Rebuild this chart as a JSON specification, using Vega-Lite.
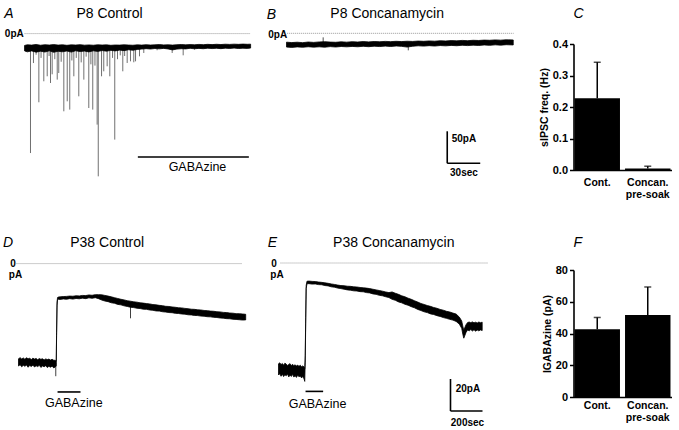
{
 "$schema": "https://vega.github.io/schema/vega-lite/v6.json",
 "background": "white",
 "padding": {"left": 2.5, "top": 6, "right": 8, "bottom": 4},
 "config": {
  "font": "Liberation Sans",
  "view": {"stroke": null},
  "axis": {"domainColor": "black", "tickColor": "black", "labelColor": "black", "titleColor": "black", "grid": false, "domainWidth": 1.6, "tickWidth": 1.5, "tickSize": 4, "labelFontWeight": "bold", "labelFontSize": 10.5, "titleFontSize": 10.5, "titleFontWeight": "bold", "titlePadding": 3, "labelPadding": 2, "labelOverlap": false},
  "title": {"font": "Liberation Sans", "color": "black"}
 },
 "datasets": {
  "band": [
   {"p":"A","t":5.5,"lo":-27,"hi":-18.5},{"p":"A","t":8,"lo":-28.5,"hi":-17.5},{"p":"A","t":12,"lo":-27,"hi":-18},{"p":"A","t":16,"lo":-29,"hi":-17},{"p":"A","t":20,"lo":-27.5,"hi":-18.2},{"p":"A","t":24,"lo":-28.8,"hi":-17.4},{"p":"A","t":28,"lo":-26.9,"hi":-17.9},{"p":"A","t":32,"lo":-29.2,"hi":-17.2},{"p":"A","t":36,"lo":-27.6,"hi":-18},{"p":"A","t":40,"lo":-28.4,"hi":-17.5},{"p":"A","t":44,"lo":-27.1,"hi":-18.3},{"p":"A","t":48,"lo":-28.9,"hi":-17.6},{"p":"A","t":52,"lo":-26.8,"hi":-17.9},{"p":"A","t":56,"lo":-28.1,"hi":-17.3},{"p":"A","t":60,"lo":-27.3,"hi":-18.1},{"p":"A","t":64,"lo":-28.6,"hi":-17.7},{"p":"A","t":68,"lo":-26.9,"hi":-18.2},{"p":"A","t":72,"lo":-27.8,"hi":-17.5},{"p":"A","t":76,"lo":-26.5,"hi":-17.9},{"p":"A","t":80,"lo":-27.4,"hi":-17.6},{"p":"A","t":84,"lo":-26.2,"hi":-18.3},{"p":"A","t":88,"lo":-27,"hi":-17.8},{"p":"A","t":92,"lo":-25.8,"hi":-18},{"p":"A","t":96,"lo":-26.6,"hi":-17.5},{"p":"A","t":100,"lo":-25.2,"hi":-17.9},{"p":"A","t":104,"lo":-26,"hi":-18.2},{"p":"A","t":108,"lo":-24.8,"hi":-17.6},{"p":"A","t":112,"lo":-24.2,"hi":-18},{"p":"A","t":116,"lo":-23.5,"hi":-17.4},{"p":"A","t":120,"lo":-24.1,"hi":-17.9},{"p":"A","t":124,"lo":-23.3,"hi":-17.6},{"p":"A","t":128,"lo":-23.8,"hi":-17.2},{"p":"A","t":132,"lo":-23.1,"hi":-17.7},{"p":"A","t":136,"lo":-24,"hi":-17.5},{"p":"A","t":140,"lo":-25.5,"hi":-18},{"p":"A","t":144,"lo":-24.2,"hi":-17.4},{"p":"A","t":148,"lo":-23.6,"hi":-17.1},{"p":"A","t":152,"lo":-23.9,"hi":-17.6},{"p":"A","t":156,"lo":-23,"hi":-17.2},{"p":"A","t":160,"lo":-23.7,"hi":-17.5},{"p":"A","t":164,"lo":-23.1,"hi":-16.9},{"p":"A","t":168,"lo":-23.6,"hi":-17.3},{"p":"A","t":172,"lo":-22.8,"hi":-16.8},{"p":"A","t":176,"lo":-23.4,"hi":-17.2},{"p":"A","t":180,"lo":-22.9,"hi":-16.7},{"p":"A","t":184,"lo":-23.5,"hi":-17.1},{"p":"A","t":188,"lo":-22.7,"hi":-16.6},{"p":"A","t":192,"lo":-23.2,"hi":-16.9},{"p":"A","t":196,"lo":-22.6,"hi":-16.5},{"p":"A","t":200,"lo":-23.3,"hi":-16.8},{"p":"A","t":204,"lo":-22.8,"hi":-16.4},{"p":"A","t":208,"lo":-23.1,"hi":-16.7},{"p":"A","t":211,"lo":-22.6,"hi":-16.5},
   {"p":"B","t":7.3,"lo":-21.5,"hi":-13.8},{"p":"B","t":12,"lo":-22,"hi":-14.5},{"p":"B","t":17,"lo":-21.2,"hi":-13.9},{"p":"B","t":22,"lo":-21.8,"hi":-14.6},{"p":"B","t":27,"lo":-21,"hi":-13.6},{"p":"B","t":32,"lo":-21.6,"hi":-14.2},{"p":"B","t":37,"lo":-21.1,"hi":-13.5},{"p":"B","t":42,"lo":-21.7,"hi":-13.1},{"p":"B","t":47,"lo":-20.8,"hi":-13.7},{"p":"B","t":52,"lo":-21.4,"hi":-14},{"p":"B","t":57,"lo":-20.6,"hi":-13.3},{"p":"B","t":62,"lo":-21.1,"hi":-13.8},{"p":"B","t":67,"lo":-20.5,"hi":-13.1},{"p":"B","t":72,"lo":-21,"hi":-13.6},{"p":"B","t":77,"lo":-20.3,"hi":-12.9},{"p":"B","t":82,"lo":-20.9,"hi":-13.4},{"p":"B","t":87,"lo":-20.1,"hi":-12.8},{"p":"B","t":92,"lo":-20.7,"hi":-13.2},{"p":"B","t":97,"lo":-20,"hi":-12.6},{"p":"B","t":102,"lo":-20.6,"hi":-13},{"p":"B","t":107,"lo":-19.8,"hi":-12.5},{"p":"B","t":112,"lo":-20.4,"hi":-12.9},{"p":"B","t":117,"lo":-21.5,"hi":-12.4},{"p":"B","t":122,"lo":-20.2,"hi":-12.7},{"p":"B","t":127,"lo":-19.5,"hi":-12.1},{"p":"B","t":132,"lo":-20,"hi":-12.5},{"p":"B","t":137,"lo":-19.3,"hi":-11.9},{"p":"B","t":142,"lo":-19.9,"hi":-12.3},{"p":"B","t":147,"lo":-19.1,"hi":-11.6},{"p":"B","t":152,"lo":-19.6,"hi":-12},{"p":"B","t":157,"lo":-18.9,"hi":-11.4},{"p":"B","t":162,"lo":-19.4,"hi":-11.8},{"p":"B","t":167,"lo":-18.7,"hi":-11.1},{"p":"B","t":172,"lo":-19.2,"hi":-11.5},{"p":"B","t":177,"lo":-18.5,"hi":-10.9},{"p":"B","t":182,"lo":-19,"hi":-11.2},{"p":"B","t":187,"lo":-18.2,"hi":-10.6},{"p":"B","t":192,"lo":-18.8,"hi":-10.9},{"p":"B","t":197,"lo":-18,"hi":-10.3},{"p":"B","t":202,"lo":-18.5,"hi":-10.7},{"p":"B","t":207,"lo":-17.8,"hi":-10.1},{"p":"B","t":213.4,"lo":-18.2,"hi":-10.4},
   {"p":"D","t":0,"lo":-64,"hi":-59.5},{"p":"D","t":10,"lo":-63.2,"hi":-58.8},{"p":"D","t":20,"lo":-64.5,"hi":-59.6},{"p":"D","t":30,"lo":-63.6,"hi":-59},{"p":"D","t":40,"lo":-64.2,"hi":-59.8},{"p":"D","t":50,"lo":-63.4,"hi":-58.9},{"p":"D","t":60,"lo":-64.8,"hi":-59.5},{"p":"D","t":70,"lo":-63.7,"hi":-59.2},{"p":"D","t":80,"lo":-64.3,"hi":-60},{"p":"D","t":90,"lo":-63.5,"hi":-59.1},{"p":"D","t":100,"lo":-64.6,"hi":-59.7},{"p":"D","t":110,"lo":-63.9,"hi":-59.3},{"p":"D","t":120,"lo":-64.4,"hi":-60.1},{"p":"D","t":130,"lo":-63.6,"hi":-59.4},{"p":"D","t":140,"lo":-64.9,"hi":-59.8},{"p":"D","t":150,"lo":-64,"hi":-59.5},{"p":"D","t":160,"lo":-64.5,"hi":-60.2},{"p":"D","t":170,"lo":-63.8,"hi":-59.6},{"p":"D","t":180,"lo":-65,"hi":-60},{"p":"D","t":190,"lo":-64.2,"hi":-59.7},{"p":"D","t":200,"lo":-64.8,"hi":-60.3},{"p":"D","t":210,"lo":-64.1,"hi":-59.8},{"p":"D","t":220,"lo":-65.2,"hi":-60.4},{"p":"D","t":230,"lo":-64.6,"hi":-60.5},{"p":"D","t":236,"lo":-64,"hi":-61},{"p":"D","t":238,"lo":-45,"hi":-43},{"p":"D","t":241,"lo":-26,"hi":-24},{"p":"D","t":244,"lo":-22.6,"hi":-21.2},{"p":"D","t":250,"lo":-22.3,"hi":-20.9},
   {"p":"D","t":260,"lo":-22.4,"hi":-20.8},{"p":"D","t":280,"lo":-22.1,"hi":-20.6},{"p":"D","t":300,"lo":-22.3,"hi":-20.5},{"p":"D","t":320,"lo":-21.9,"hi":-20.3},{"p":"D","t":340,"lo":-22.2,"hi":-20.4},{"p":"D","t":360,"lo":-21.8,"hi":-20.1},{"p":"D","t":380,"lo":-22,"hi":-20.2},{"p":"D","t":400,"lo":-21.6,"hi":-19.9},{"p":"D","t":420,"lo":-21.9,"hi":-20},{"p":"D","t":440,"lo":-21.4,"hi":-19.6},{"p":"D","t":460,"lo":-21.7,"hi":-19.8},{"p":"D","t":480,"lo":-21.3,"hi":-19.4},{"p":"D","t":500,"lo":-21.9,"hi":-19.4},
   {"p":"D","t":520,"lo":-22.8,"hi":-19.5},{"p":"D","t":540,"lo":-23.4,"hi":-19.9},{"p":"D","t":560,"lo":-23.8,"hi":-20.3},{"p":"D","t":580,"lo":-24.5,"hi":-20.8},{"p":"D","t":600,"lo":-24.8,"hi":-21.3},{"p":"D","t":620,"lo":-25.5,"hi":-21.8},{"p":"D","t":640,"lo":-25.8,"hi":-22.3},{"p":"D","t":660,"lo":-26.4,"hi":-22.7},{"p":"D","t":680,"lo":-26.8,"hi":-23.2},{"p":"D","t":700,"lo":-27.3,"hi":-23.5},{"p":"D","t":720,"lo":-27.5,"hi":-23.9},{"p":"D","t":740,"lo":-27.9,"hi":-24.1},{"p":"D","t":760,"lo":-28.1,"hi":-24.5},{"p":"D","t":780,"lo":-28.5,"hi":-24.7},{"p":"D","t":800,"lo":-28.6,"hi":-25},{"p":"D","t":820,"lo":-29,"hi":-25.2},{"p":"D","t":840,"lo":-29.2,"hi":-25.6},{"p":"D","t":860,"lo":-29.6,"hi":-25.8},{"p":"D","t":880,"lo":-29.7,"hi":-26.1},{"p":"D","t":900,"lo":-30.1,"hi":-26.3},{"p":"D","t":920,"lo":-30.3,"hi":-26.7},{"p":"D","t":940,"lo":-30.6,"hi":-26.8},{"p":"D","t":960,"lo":-30.7,"hi":-27.1},{"p":"D","t":980,"lo":-31.1,"hi":-27.3},{"p":"D","t":1000,"lo":-31.2,"hi":-27.6},{"p":"D","t":1020,"lo":-31.5,"hi":-27.7},{"p":"D","t":1040,"lo":-31.6,"hi":-28},{"p":"D","t":1060,"lo":-32,"hi":-28.2},{"p":"D","t":1080,"lo":-32.1,"hi":-28.5},{"p":"D","t":1100,"lo":-32.4,"hi":-28.6},{"p":"D","t":1120,"lo":-32.5,"hi":-28.9},{"p":"D","t":1140,"lo":-32.8,"hi":-29},{"p":"D","t":1160,"lo":-32.9,"hi":-29.3},{"p":"D","t":1180,"lo":-33.2,"hi":-29.4},{"p":"D","t":1200,"lo":-33.3,"hi":-29.7},{"p":"D","t":1220,"lo":-33.6,"hi":-29.8},{"p":"D","t":1240,"lo":-33.7,"hi":-30.1},{"p":"D","t":1260,"lo":-34,"hi":-30.2},{"p":"D","t":1280,"lo":-34.1,"hi":-30.5},{"p":"D","t":1300,"lo":-34.4,"hi":-30.6},{"p":"D","t":1320,"lo":-34.5,"hi":-30.9},{"p":"D","t":1340,"lo":-34.8,"hi":-31},{"p":"D","t":1360,"lo":-34.9,"hi":-31.3},{"p":"D","t":1380,"lo":-35.1,"hi":-31.3},{"p":"D","t":1400,"lo":-35.3,"hi":-31.5},{"p":"D","t":1420,"lo":-35.2,"hi":-31.7},
   {"p":"E","t":0,"lo":-70,"hi":-63},{"p":"E","t":8,"lo":-69.2,"hi":-62.4},{"p":"E","t":16,"lo":-70.8,"hi":-63.5},{"p":"E","t":24,"lo":-69.5,"hi":-62.8},{"p":"E","t":32,"lo":-71,"hi":-63.9},{"p":"E","t":40,"lo":-69.8,"hi":-62.6},{"p":"E","t":48,"lo":-70.5,"hi":-63.2},{"p":"E","t":56,"lo":-69.3,"hi":-64},{"p":"E","t":64,"lo":-71.2,"hi":-63.4},{"p":"E","t":72,"lo":-70.1,"hi":-62.9},{"p":"E","t":80,"lo":-70.9,"hi":-64.1},{"p":"E","t":88,"lo":-69.6,"hi":-63.3},{"p":"E","t":96,"lo":-71.3,"hi":-64.2},{"p":"E","t":104,"lo":-70.4,"hi":-63.6},{"p":"E","t":112,"lo":-71.5,"hi":-64.4},{"p":"E","t":120,"lo":-70.2,"hi":-63.8},{"p":"E","t":128,"lo":-71.1,"hi":-64.6},{"p":"E","t":136,"lo":-70.6,"hi":-63.9},{"p":"E","t":144,"lo":-71.8,"hi":-64.8},{"p":"E","t":152,"lo":-70.9,"hi":-64.3},{"p":"E","t":160,"lo":-72.5,"hi":-65},{"p":"E","t":164,"lo":-74,"hi":-66},{"p":"E","t":167,"lo":-62,"hi":-58},{"p":"E","t":170,"lo":-38,"hi":-34},{"p":"E","t":173,"lo":-16,"hi":-14},{"p":"E","t":178,"lo":-13,"hi":-11.4},
   {"p":"E","t":190,"lo":-12.9,"hi":-11.3},{"p":"E","t":210,"lo":-13.2,"hi":-11.5},{"p":"E","t":230,"lo":-13.1,"hi":-11.6},{"p":"E","t":250,"lo":-13.5,"hi":-11.9},{"p":"E","t":270,"lo":-13.6,"hi":-12.1},{"p":"E","t":290,"lo":-14.1,"hi":-12.4},{"p":"E","t":310,"lo":-14.3,"hi":-12.7},{"p":"E","t":330,"lo":-14.9,"hi":-13.1},{"p":"E","t":350,"lo":-15.1,"hi":-13.4},{"p":"E","t":370,"lo":-15.7,"hi":-13.8},{"p":"E","t":390,"lo":-16,"hi":-14.1},{"p":"E","t":410,"lo":-16.4,"hi":-14.2},{"p":"E","t":430,"lo":-16.8,"hi":-14.5},{"p":"E","t":450,"lo":-17,"hi":-14.6},{"p":"E","t":470,"lo":-17.4,"hi":-14.9},{"p":"E","t":490,"lo":-17.5,"hi":-15},{"p":"E","t":510,"lo":-17.9,"hi":-15.3},{"p":"E","t":530,"lo":-18,"hi":-15.5},{"p":"E","t":550,"lo":-18.5,"hi":-15.7},{"p":"E","t":570,"lo":-18.7,"hi":-16},{"p":"E","t":590,"lo":-19.3,"hi":-16.4},{"p":"E","t":610,"lo":-19.6,"hi":-16.8},{"p":"E","t":630,"lo":-20.2,"hi":-17.2},{"p":"E","t":650,"lo":-20.5,"hi":-17.6},{"p":"E","t":670,"lo":-21.1,"hi":-18.1},{"p":"E","t":690,"lo":-21.6,"hi":-18.5},
   {"p":"E","t":710,"lo":-22.7,"hi":-18.1},{"p":"E","t":730,"lo":-23.3,"hi":-18.9},{"p":"E","t":750,"lo":-24.3,"hi":-19.6},{"p":"E","t":770,"lo":-24.9,"hi":-20.5},{"p":"E","t":790,"lo":-25.8,"hi":-21.1},{"p":"E","t":810,"lo":-26.4,"hi":-22},{"p":"E","t":830,"lo":-27.3,"hi":-22.7},{"p":"E","t":850,"lo":-28,"hi":-23.6},{"p":"E","t":870,"lo":-29,"hi":-24.4},{"p":"E","t":890,"lo":-29.7,"hi":-25.3},{"p":"E","t":910,"lo":-30.5,"hi":-25.9},{"p":"E","t":930,"lo":-31,"hi":-26.6},{"p":"E","t":950,"lo":-31.8,"hi":-27.1},{"p":"E","t":970,"lo":-32.2,"hi":-27.8},{"p":"E","t":990,"lo":-32.9,"hi":-28.3},{"p":"E","t":1010,"lo":-33.4,"hi":-29},{"p":"E","t":1030,"lo":-34.1,"hi":-29.5},{"p":"E","t":1050,"lo":-34.6,"hi":-30.2},{"p":"E","t":1070,"lo":-35.2,"hi":-30.6},{"p":"E","t":1090,"lo":-35.7,"hi":-31.3},{"p":"E","t":1110,"lo":-36.5,"hi":-31.9},{"p":"E","t":1130,"lo":-38.2,"hi":-33.8},{"p":"E","t":1145,"lo":-40.8,"hi":-36.2},{"p":"E","t":1152,"lo":-44.5,"hi":-39.5},{"p":"E","t":1158,"lo":-47,"hi":-42},{"p":"E","t":1164,"lo":-45.5,"hi":-40.5},{"p":"E","t":1172,"lo":-43.4,"hi":-38.6},{"p":"E","t":1182,"lo":-41.8,"hi":-37.2},{"p":"E","t":1192,"lo":-42.4,"hi":-36.9},{"p":"E","t":1202,"lo":-41.6,"hi":-37.3},{"p":"E","t":1212,"lo":-42.5,"hi":-36.8},{"p":"E","t":1222,"lo":-41.7,"hi":-37.4},{"p":"E","t":1232,"lo":-42.6,"hi":-37},{"p":"E","t":1242,"lo":-41.9,"hi":-37.5},{"p":"E","t":1252,"lo":-42.4,"hi":-36.9},{"p":"E","t":1262,"lo":-41.8,"hi":-37.3},{"p":"E","t":1273,"lo":-42.2,"hi":-37}
  ],
  "spikes": [
   {"p":"A","t":10.9,"v":-186.6,"v0":-21},{"p":"A","t":13.6,"v":-46,"v0":-21},{"p":"A","t":16,"v":-33,"v0":-21},{"p":"A","t":18.5,"v":-107.3,"v0":-21},{"p":"A","t":20.5,"v":-38,"v0":-21},{"p":"A","t":23,"v":-74.5,"v0":-21},{"p":"A","t":26.1,"v":-66.7,"v0":-21},{"p":"A","t":27.8,"v":-35,"v0":-21},{"p":"A","t":29.1,"v":-77.2,"v0":-21},{"p":"A","t":30.6,"v":-63.6,"v0":-21},{"p":"A","t":33,"v":-40,"v0":-21},{"p":"A","t":35.2,"v":-71.9,"v0":-21},{"p":"A","t":36.6,"v":-61.6,"v0":-21},{"p":"A","t":38.8,"v":-44,"v0":-21},{"p":"A","t":41.2,"v":-121.4,"v0":-21},{"p":"A","t":44.3,"v":-105.8,"v0":-21},{"p":"A","t":46.6,"v":-118.75,"v0":-21},{"p":"A","t":48.5,"v":-42,"v0":-21},{"p":"A","t":50.3,"v":-66.7,"v0":-21},{"p":"A","t":52.5,"v":-38,"v0":-21},{"p":"A","t":54.8,"v":-98,"v0":-21},{"p":"A","t":57,"v":-45,"v0":-21},{"p":"A","t":59.4,"v":-71.9,"v0":-21},{"p":"A","t":61.5,"v":-36,"v0":-21},{"p":"A","t":63.9,"v":-116.25,"v0":-21},{"p":"A","t":65.8,"v":-48,"v0":-21},{"p":"A","t":67.5,"v":-118.75,"v0":-21},{"p":"A","t":69.5,"v":-50,"v0":-21},{"p":"A","t":71.5,"v":-142.2,"v0":-21},{"p":"A","t":72.5,"v":-223,"v0":-21},{"p":"A","t":75.5,"v":-66.7,"v0":-21},{"p":"A","t":77.5,"v":-58.9,"v0":-21},{"p":"A","t":80.6,"v":-51.1,"v0":-21},{"p":"A","t":83,"v":-66.7,"v0":-21},{"p":"A","t":85.5,"v":-38,"v0":-21},{"p":"A","t":87.5,"v":-165.6,"v0":-21},{"p":"A","t":90,"v":-40,"v0":-21},{"p":"A","t":92.5,"v":-34,"v0":-21},{"p":"A","t":94.8,"v":-58.9,"v0":-21},{"p":"A","t":96.5,"v":-35,"v0":-21},{"p":"A","t":98.8,"v":-45.9,"v0":-21},{"p":"A","t":101.8,"v":-43.3,"v0":-21},{"p":"A","t":104.8,"v":-44.8,"v0":-21},{"p":"A","t":106.4,"v":-43.3,"v0":-21},{"p":"A","t":110,"v":-35.5,"v0":-21},{"p":"A","t":113.9,"v":-30.3,"v0":-21},{"p":"A","t":126,"v":-26,"v0":-21},{"p":"A","t":139.7,"v":-30.3,"v0":-21},{"p":"A","t":149.7,"v":-33.9,"v0":-21},{"p":"A","t":160,"v":-25,"v0":-21},
   {"p":"B","t":40.6,"v":-6.3,"v0":-17.5},{"p":"B","t":118,"v":-26.6,"v0":-16},
   {"p":"D","t":233,"v":-70.4,"v0":-62},{"p":"D","t":700,"v":-34.2,"v0":-25}
  ],
  "segments": [
   {"p":"A","k":"zero","t":5.5,"t2":211,"v":0,"v2":0},
   {"p":"A","k":"bar","t":108.5,"t2":209.4,"v":-192.8,"v2":-192.8},
   {"p":"B","k":"zero","t":7.9,"t2":213.9,"v":0,"v2":0},
   {"p":"B","k":"bar","t":153.4,"t2":153.4,"v":-203.1,"v2":-153.1},
   {"p":"B","k":"bar","t":153.4,"t2":183.4,"v":-203.1,"v2":-203.1},
   {"p":"D","k":"zero","t":-12.5,"t2":1400,"v":0,"v2":0},
   {"p":"D","k":"bar","t":244,"t2":387.5,"v":-80.25,"v2":-80.25},
   {"p":"E","k":"zero","t":12.5,"t2":1312.5,"v":0,"v2":0},
   {"p":"E","k":"bar","t":169,"t2":279,"v":-80.25,"v2":-80.25},
   {"p":"E","k":"bar","t":1075,"t2":1075,"v":-92.5,"v2":-72.5},
   {"p":"E","k":"bar","t":1075,"t2":1275,"v":-92.5,"v2":-92.5}
  ],
  "labels": [
   {"p":"A","k":"letter","t":-8.6,"v":30.2,"s":"A"},
   {"p":"A","k":"title","t":82.7,"v":30.6,"s":"P8 Control"},
   {"p":"A","k":"unit","t":-3.8,"v":-0.6,"s":"0pA"},
   {"p":"A","k":"gaba","t":162.7,"v":-208.4,"s":"GABAzine"},
   {"p":"B","k":"letter","t":-6.4,"v":29.2,"s":"B"},
   {"p":"B","k":"title","t":98.8,"v":30.2,"s":"P8 Concanamycin"},
   {"p":"B","k":"unit","t":-0.7,"v":-2,"s":"0pA"},
   {"p":"B","k":"unit","t":168.6,"v":-165.6,"s":"50pA"},
   {"p":"B","k":"unit","t":168.6,"v":-218.75,"s":"30sec"},
   {"p":"D","k":"letter","t":-65.6,"v":12.7,"s":"D"},
   {"p":"D","k":"title","t":554.4,"v":12.9,"s":"P38 Control"},
   {"p":"D","k":"unit","t":-34.4,"v":-0.4,"s":"0"},
   {"p":"D","k":"unit","t":-18.75,"v":-7,"s":"pA"},
   {"p":"D","k":"gaba","t":345.6,"v":-87.3,"s":"GABAzine"},
   {"p":"E","k":"letter","t":-37.5,"v":12.5,"s":"E"},
   {"p":"E","k":"title","t":720.6,"v":12.5,"s":"P38 Concanamycin"},
   {"p":"E","k":"unit","t":-28,"v":-0.6,"s":"0"},
   {"p":"E","k":"unit","t":-9.4,"v":-7.3,"s":"pA"},
   {"p":"E","k":"gaba","t":243.75,"v":-88.1,"s":"GABAzine"},
   {"p":"E","k":"unit","t":1184,"v":-78.75,"s":"20pA"},
   {"p":"E","k":"unit","t":1181,"v":-100,"s":"200sec"}
  ],
  "bars": [
   {"p":"C","group":"Cont.","mean":0.228,"upper":0.342},
   {"p":"C","group":"Concan. pre-soak","mean":0.005,"upper":0.012},
   {"p":"F","group":"Cont.","mean":42.7,"upper":50.1},
   {"p":"F","group":"Concan. pre-soak","mean":51.6,"upper":69.3}
  ]
 },
 "columns": 3,
 "align": "each",
 "bounds": "flush",
 "spacing": {"row": 100, "column": 28},
 "concat": [
  {
   "width": 232, "height": 126,
   "encoding": {
    "x": {"field": "t", "type": "quantitative", "scale": {"domain": [0, 210.9], "nice": false, "zero": false}, "axis": null},
    "y": {"field": "v", "type": "quantitative", "scale": {"domain": [-213.1, -16.25], "nice": false, "zero": false}, "axis": null}
   },
   "layer": [
    {"data": {"name": "segments"}, "transform": [{"filter": "datum.p == 'A' && datum.k == 'zero'"}], "mark": {"type": "rule", "color": "#999999", "strokeWidth": 1, "strokeDash": [1, 1]}, "encoding": {"x2": {"field": "t2"}, "y2": {"field": "v2"}}},
    {"data": {"name": "spikes"}, "transform": [{"filter": "datum.p == 'A'"}], "mark": {"type": "rule", "color": "#707070", "strokeWidth": 1}, "encoding": {"y2": {"field": "v0"}}},
    {"data": {"name": "band"}, "transform": [{"filter": "datum.p == 'A'"}], "mark": {"type": "area", "color": "black", "stroke": "black", "strokeWidth": 0.8}, "encoding": {"y": {"field": "lo", "type": "quantitative", "scale": {"domain": [-213.1, -16.25], "nice": false, "zero": false}, "axis": null}, "y2": {"field": "hi"}}},
    {"data": {"name": "segments"}, "transform": [{"filter": "datum.p == 'A' && datum.k == 'bar'"}], "mark": {"type": "rule", "color": "black", "strokeWidth": 1.6}, "encoding": {"x2": {"field": "t2"}, "y2": {"field": "v2"}}},
    {"data": {"name": "labels"}, "transform": [{"filter": "datum.p == 'A' && datum.k == 'letter'"}], "mark": {"type": "text", "fontSize": 14, "fontStyle": "italic", "align": "center", "baseline": "middle", "color": "black"}, "encoding": {"text": {"field": "s"}}},
    {"data": {"name": "labels"}, "transform": [{"filter": "datum.p == 'A' && datum.k == 'title'"}], "mark": {"type": "text", "fontSize": 14, "align": "center", "baseline": "middle", "color": "black"}, "encoding": {"text": {"field": "s"}}},
    {"data": {"name": "labels"}, "transform": [{"filter": "datum.p == 'A' && datum.k == 'gaba'"}], "mark": {"type": "text", "fontSize": 12.5, "align": "center", "baseline": "middle", "color": "black"}, "encoding": {"text": {"field": "s"}}},
    {"data": {"name": "labels"}, "transform": [{"filter": "datum.p == 'A' && datum.k == 'unit'"}], "mark": {"type": "text", "fontSize": 10, "fontWeight": "bold", "align": "center", "baseline": "middle", "color": "black"}, "encoding": {"text": {"field": "s"}}}
   ]
  },
  {
   "width": 266.3, "height": 126,
   "encoding": {
    "x": {"field": "t", "type": "quantitative", "scale": {"domain": [0, 242.1], "nice": false, "zero": false}, "axis": null},
    "y": {"field": "v", "type": "quantitative", "scale": {"domain": [-213.6, -16.7], "nice": false, "zero": false}, "axis": null}
   },
   "layer": [
    {"data": {"name": "segments"}, "transform": [{"filter": "datum.p == 'B' && datum.k == 'zero'"}], "mark": {"type": "rule", "color": "#999999", "strokeWidth": 1, "strokeDash": [1, 1]}, "encoding": {"x2": {"field": "t2"}, "y2": {"field": "v2"}}},
    {"data": {"name": "spikes"}, "transform": [{"filter": "datum.p == 'B'"}], "mark": {"type": "rule", "color": "#505050", "strokeWidth": 1}, "encoding": {"y2": {"field": "v0"}}},
    {"data": {"name": "band"}, "transform": [{"filter": "datum.p == 'B'"}], "mark": {"type": "area", "color": "black", "stroke": "black", "strokeWidth": 0.8}, "encoding": {"y": {"field": "lo", "type": "quantitative", "scale": {"domain": [-213.6, -16.7], "nice": false, "zero": false}, "axis": null}, "y2": {"field": "hi"}}},
    {"data": {"name": "segments"}, "transform": [{"filter": "datum.p == 'B' && datum.k == 'bar'"}], "mark": {"type": "rule", "color": "black", "strokeWidth": 1.6}, "encoding": {"x2": {"field": "t2"}, "y2": {"field": "v2"}}},
    {"data": {"name": "labels"}, "transform": [{"filter": "datum.p == 'B' && datum.k == 'letter'"}], "mark": {"type": "text", "fontSize": 14, "fontStyle": "italic", "align": "center", "baseline": "middle", "color": "black"}, "encoding": {"text": {"field": "s"}}},
    {"data": {"name": "labels"}, "transform": [{"filter": "datum.p == 'B' && datum.k == 'title'"}], "mark": {"type": "text", "fontSize": 14, "align": "center", "baseline": "middle", "color": "black"}, "encoding": {"text": {"field": "s"}}},
    {"data": {"name": "labels"}, "transform": [{"filter": "datum.p == 'B' && datum.k == 'unit'"}], "mark": {"type": "text", "fontSize": 10, "fontWeight": "bold", "align": "center", "baseline": "middle", "color": "black"}, "encoding": {"text": {"field": "s"}}}
   ]
  },
  {
   "width": 98, "height": 126,
   "title": {"text": "C", "anchor": "start", "frame": "group", "fontStyle": "italic", "fontWeight": "normal", "fontSize": 14, "offset": 17.5},
   "data": {"name": "bars"},
   "transform": [{"filter": "datum.p == 'C'"}],
   "encoding": {
    "x": {"field": "group", "type": "nominal", "sort": null, "scale": {"paddingInner": 0.1, "paddingOuter": 0.02}, "axis": {"title": null, "labelAngle": 0, "ticks": false, "labelPadding": 7, "labelBaseline": "top", "labelLineHeight": 12, "labelExpr": "datum.value == 'Cont.' ? 'Cont.' : ['Concan.', 'pre-soak']"}}
   },
   "layer": [
    {"mark": {"type": "bar", "color": "black"}, "encoding": {"y": {"field": "mean", "type": "quantitative", "title": "sIPSC freq. (Hz)", "scale": {"domain": [0, 0.4], "nice": false}, "axis": {"values": [0, 0.1, 0.2, 0.3, 0.4], "format": ".1f", "labelFontSize": 11, "labelOverlap": false}}}},
    {"mark": {"type": "rule", "color": "black", "strokeWidth": 1.5}, "encoding": {"y": {"field": "mean", "type": "quantitative", "title": "sIPSC freq. (Hz)", "axis": {"values": [0, 0.1, 0.2, 0.3, 0.4], "format": ".1f", "labelFontSize": 11, "labelOverlap": false}}, "y2": {"field": "upper"}}},
    {"mark": {"type": "tick", "color": "black", "thickness": 1.5, "size": 7}, "encoding": {"y": {"field": "upper", "type": "quantitative", "title": "sIPSC freq. (Hz)", "axis": {"values": [0, 0.1, 0.2, 0.3, 0.4], "format": ".1f", "labelFontSize": 11, "labelOverlap": false}}}}
   ]
  },
  {
   "width": 232, "height": 127,
   "encoding": {
    "x": {"field": "t", "type": "quantitative", "scale": {"domain": [0, 1450], "nice": false, "zero": false}, "axis": null},
    "y": {"field": "v", "type": "quantitative", "scale": {"domain": [-83.4, -4], "nice": false, "zero": false}, "axis": null}
   },
   "layer": [
    {"data": {"name": "segments"}, "transform": [{"filter": "datum.p == 'D' && datum.k == 'zero'"}], "mark": {"type": "rule", "color": "#999999", "strokeWidth": 1, "strokeDash": [1, 1]}, "encoding": {"x2": {"field": "t2"}, "y2": {"field": "v2"}}},
    {"data": {"name": "spikes"}, "transform": [{"filter": "datum.p == 'D'"}], "mark": {"type": "rule", "color": "#404040", "strokeWidth": 1}, "encoding": {"y2": {"field": "v0"}}},
    {"data": {"name": "band"}, "transform": [{"filter": "datum.p == 'D'"}], "mark": {"type": "area", "color": "black", "stroke": "black", "strokeWidth": 0.8}, "encoding": {"y": {"field": "lo", "type": "quantitative", "scale": {"domain": [-83.4, -4], "nice": false, "zero": false}, "axis": null}, "y2": {"field": "hi"}}},
    {"data": {"name": "segments"}, "transform": [{"filter": "datum.p == 'D' && datum.k == 'bar'"}], "mark": {"type": "rule", "color": "black", "strokeWidth": 1.6}, "encoding": {"x2": {"field": "t2"}, "y2": {"field": "v2"}}},
    {"data": {"name": "labels"}, "transform": [{"filter": "datum.p == 'D' && datum.k == 'letter'"}], "mark": {"type": "text", "fontSize": 14, "fontStyle": "italic", "align": "center", "baseline": "middle", "color": "black"}, "encoding": {"text": {"field": "s"}}},
    {"data": {"name": "labels"}, "transform": [{"filter": "datum.p == 'D' && datum.k == 'title'"}], "mark": {"type": "text", "fontSize": 14, "align": "center", "baseline": "middle", "color": "black"}, "encoding": {"text": {"field": "s"}}},
    {"data": {"name": "labels"}, "transform": [{"filter": "datum.p == 'D' && datum.k == 'gaba'"}], "mark": {"type": "text", "fontSize": 12.5, "align": "center", "baseline": "middle", "color": "black"}, "encoding": {"text": {"field": "s"}}},
    {"data": {"name": "labels"}, "transform": [{"filter": "datum.p == 'D' && datum.k == 'unit'"}], "mark": {"type": "text", "fontSize": 10, "fontWeight": "bold", "align": "center", "baseline": "middle", "color": "black"}, "encoding": {"text": {"field": "s"}}}
   ]
  },
  {
   "width": 266.3, "height": 127,
   "encoding": {
    "x": {"field": "t", "type": "quantitative", "scale": {"domain": [0, 1664.4], "nice": false, "zero": false}, "axis": null},
    "y": {"field": "v", "type": "quantitative", "scale": {"domain": [-83.75, -4.375], "nice": false, "zero": false}, "axis": null}
   },
   "layer": [
    {"data": {"name": "segments"}, "transform": [{"filter": "datum.p == 'E' && datum.k == 'zero'"}], "mark": {"type": "rule", "color": "#999999", "strokeWidth": 1, "strokeDash": [1, 1]}, "encoding": {"x2": {"field": "t2"}, "y2": {"field": "v2"}}},
    {"data": {"name": "band"}, "transform": [{"filter": "datum.p == 'E'"}], "mark": {"type": "area", "color": "black", "stroke": "black", "strokeWidth": 0.8}, "encoding": {"y": {"field": "lo", "type": "quantitative", "scale": {"domain": [-83.75, -4.375], "nice": false, "zero": false}, "axis": null}, "y2": {"field": "hi"}}},
    {"data": {"name": "segments"}, "transform": [{"filter": "datum.p == 'E' && datum.k == 'bar'"}], "mark": {"type": "rule", "color": "black", "strokeWidth": 1.6}, "encoding": {"x2": {"field": "t2"}, "y2": {"field": "v2"}}},
    {"data": {"name": "labels"}, "transform": [{"filter": "datum.p == 'E' && datum.k == 'letter'"}], "mark": {"type": "text", "fontSize": 14, "fontStyle": "italic", "align": "center", "baseline": "middle", "color": "black"}, "encoding": {"text": {"field": "s"}}},
    {"data": {"name": "labels"}, "transform": [{"filter": "datum.p == 'E' && datum.k == 'title'"}], "mark": {"type": "text", "fontSize": 14, "align": "center", "baseline": "middle", "color": "black"}, "encoding": {"text": {"field": "s"}}},
    {"data": {"name": "labels"}, "transform": [{"filter": "datum.p == 'E' && datum.k == 'gaba'"}], "mark": {"type": "text", "fontSize": 12.5, "align": "center", "baseline": "middle", "color": "black"}, "encoding": {"text": {"field": "s"}}},
    {"data": {"name": "labels"}, "transform": [{"filter": "datum.p == 'E' && datum.k == 'unit'"}], "mark": {"type": "text", "fontSize": 10, "fontWeight": "bold", "align": "center", "baseline": "middle", "color": "black"}, "encoding": {"text": {"field": "s"}}}
   ]
  },
  {
   "width": 98, "height": 127,
   "title": {"text": "F", "anchor": "start", "frame": "group", "fontStyle": "italic", "fontWeight": "normal", "fontSize": 14, "offset": 14},
   "data": {"name": "bars"},
   "transform": [{"filter": "datum.p == 'F'"}],
   "encoding": {
    "x": {"field": "group", "type": "nominal", "sort": null, "scale": {"paddingInner": 0.1, "paddingOuter": 0.02}, "axis": {"title": null, "labelAngle": 0, "ticks": false, "labelPadding": 3, "labelBaseline": "top", "labelLineHeight": 12, "labelExpr": "datum.value == 'Cont.' ? 'Cont.' : ['Concan.', 'pre-soak']"}}
   },
   "layer": [
    {"mark": {"type": "bar", "color": "black"}, "encoding": {"y": {"field": "mean", "type": "quantitative", "title": "IGABAzine (pA)", "scale": {"domain": [0, 80], "nice": false}, "axis": {"values": [0, 20, 40, 60, 80], "labelFontSize": 11, "labelOverlap": false}}}},
    {"mark": {"type": "rule", "color": "black", "strokeWidth": 1.5}, "encoding": {"y": {"field": "mean", "type": "quantitative", "title": "IGABAzine (pA)", "axis": {"values": [0, 20, 40, 60, 80], "labelFontSize": 11, "labelOverlap": false}}, "y2": {"field": "upper"}}},
    {"mark": {"type": "tick", "color": "black", "thickness": 1.5, "size": 7}, "encoding": {"y": {"field": "upper", "type": "quantitative", "title": "IGABAzine (pA)", "axis": {"values": [0, 20, 40, 60, 80], "labelFontSize": 11, "labelOverlap": false}}}}
   ]
  }
 ]
}
